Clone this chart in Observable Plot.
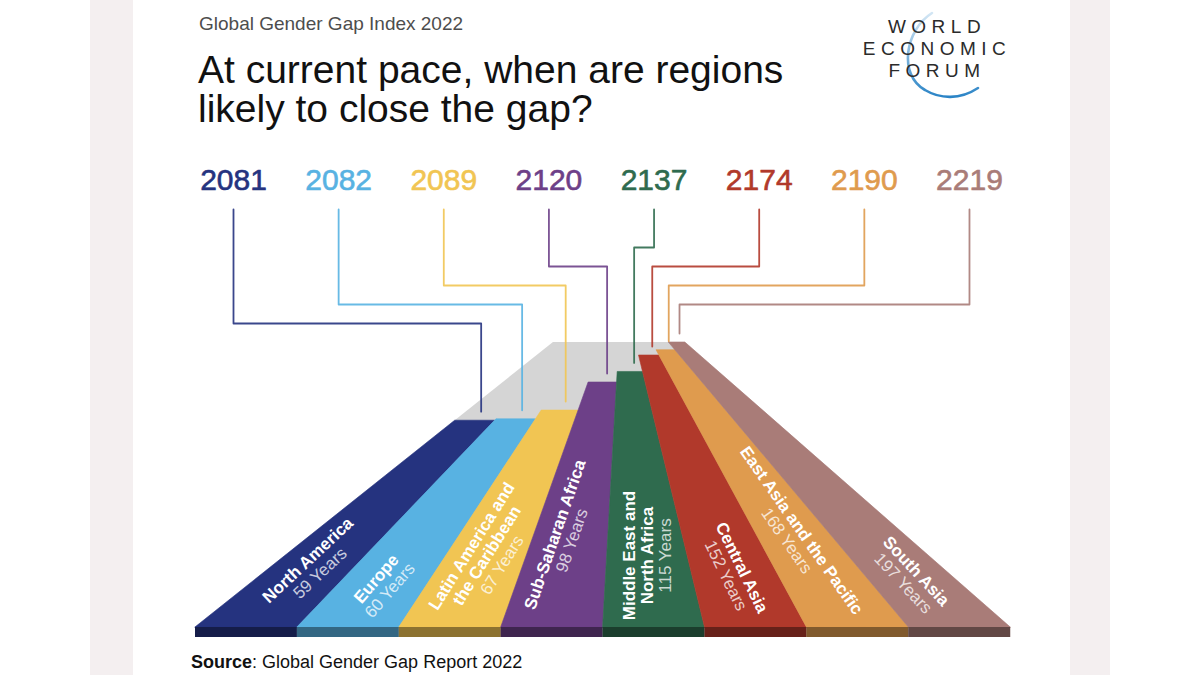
<!DOCTYPE html>
<html>
<head>
<meta charset="utf-8">
<script src="https://cdn.jsdelivr.net/npm/d3@7"></script>
<script src="https://cdn.jsdelivr.net/npm/@observablehq/plot@0.6"></script>
<style>
  html, body { margin:0; padding:0; background:#fff; width:1200px; height:675px; overflow:hidden;
    font-family:"Liberation Sans", Arial, Helvetica, sans-serif; }
  #page { position:relative; width:1200px; height:675px; }
  .strip { position:absolute; top:0; height:675px; background:#f4eff0; }
  .abs { position:absolute; white-space:nowrap; }
  #chart { position:absolute; left:0; top:140px; width:1200px; height:505px; }
  #chart svg { max-width:none; }
</style>
</head>
<body>
<div id="page">
  <div class="strip" style="left:90px;width:43px"></div>
  <div class="strip" style="left:1070px;width:40px"></div>

  <div class="abs" style="left:199px;top:14px;font-size:19px;line-height:19px;color:#4d4d4d">Global Gender Gap Index 2022</div>
  <div class="abs" style="left:198px;top:50px;font-size:39px;line-height:39px;color:#111">At current pace, when are regions<br>likely to close the gap?</div>

  <svg class="abs" style="left:850px;top:0" width="170" height="110" viewBox="850 0 170 110">
    <defs>
      <linearGradient id="arcg" x1="0" y1="0" x2="0" y2="1">
        <stop offset="0" stop-color="#d3e6f4"/>
        <stop offset="1" stop-color="#2b84c6"/>
      </linearGradient>
    </defs>
    <path d="M932,13 C905,30 898,75 925,90 C940,99 960,100 978,88" fill="none" stroke="url(#arcg)" stroke-width="2.6" stroke-linecap="round"/>
    <g font-family="'Liberation Sans', Arial, sans-serif" font-size="19" fill="#2b2b2b" text-anchor="middle" letter-spacing="5.5">
      <text x="937" y="33">WORLD</text>
      <text x="937" y="55">ECONOMIC</text>
      <text x="937" y="77">FORUM</text>
    </g>
  </svg>

  <div id="chart"></div>

  <div class="abs" style="left:191px;top:653px;font-size:18px;line-height:18px;color:#111"><b>Source</b>: Global Gender Gap Report 2022</div>
</div>

<script>
// ---------------- data ----------------
const regions = ["North America", "Europe", "Latin America and the Caribbean", "Sub-Saharan Africa",
  "Middle East and North Africa", "Central Asia", "East Asia and the Pacific", "South Asia"];
const regionLabels = ["North America", "Europe", "Latin America and\nthe Caribbean", "Sub-Saharan Africa",
  "Middle East and\nNorth Africa", "Central Asia", "East Asia and the Pacific", "South Asia"];
const closeYears = [2081, 2082, 2089, 2120, 2137, 2174, 2190, 2219];
const yearsToClose = [59, 60, 67, 98, 115, 152, 168, 197];

// ---------------- styles ----------------
const regionColors = ["#25337f", "#58b2e2", "#f1c553", "#6d4088", "#2f6b4e", "#b1392b", "#df9b4e", "#a97c78"];

// ---------------- layout (perspective road) ----------------
const VP_X = 622, HORIZON_Y = 287, BASE_Y = 627, LANE_X0 = 195, LANE_W = 101.9, D0 = 38, SLAB = 10;
const project = (u, z) => {
  const s = D0 / (D0 + z);
  return [VP_X + (LANE_X0 + u * LANE_W - VP_X) * s, HORIZON_Y + (BASE_Y - HORIZON_Y) * s];
};
const labelDepth = [8.3, 5.5, 10.2, 13.7, 10.2, 7.5, 14.1, 6.6];
const labelAcross = [0.5, 0.5, 0.5, 0.4, 0.5, 0.5, 0.5, 0.5];
const labelRotate = [-43, -49, -58, -71, -90, 64, 55, 47];
const YEAR_LABEL_X0 = 233, YEAR_LABEL_STEP = 105.14, YEAR_LABEL_Y = 179.5, LEADER_TOP = 209;

// ---------------- derived tables ----------------
const maxYears = d3.max(yearsToClose);
const floorRows = [0, maxYears].map(z => {
  const [xl, y] = project(0, z);
  const [xr] = project(regions.length, z);
  return {y, x1: xl, x2: xr};
});
const roadRows = regions.flatMap((r, i) => [0, yearsToClose[i]].map(z => {
  const [xl, y] = project(i, z);
  const [xr] = project(i + 1, z);
  return {region: r, y, x1: xl, x2: xr};
}));
const stripRows = regions.map((r, i) => ({
  region: r, x1: project(i, 0)[0], x2: project(i + 1, 0)[0], y1: BASE_Y, y2: BASE_Y + SLAB
}));
const yearRows = regions.map((r, i) => ({
  region: r, x: YEAR_LABEL_X0 + i * YEAR_LABEL_STEP, y: YEAR_LABEL_Y, text: String(closeYears[i])
}));
const leaderRows = regions.flatMap((r, i) => {
  const x0 = YEAR_LABEL_X0 + i * YEAR_LABEL_STEP;
  const level = 247 + 19 * Math.abs(i - 4);
  const [xe, ye] = project(i + 0.65, yearsToClose[i]);
  return [
    {region: r, x: x0, y: LEADER_TOP},
    {region: r, x: x0, y: level},
    {region: r, x: xe, y: level},
    {region: r, x: xe, y: ye - 9}
  ];
});
const laneLabelRows = regions.map((r, i) => {
  const [x, y] = project(i + labelAcross[i], labelDepth[i]);
  const nLines = regionLabels[i].split("\n").length;
  return {
    region: r, x, y, rotate: labelRotate[i],
    name: regionLabels[i] + "\n\u00a0",
    years: "\u00a0\n".repeat(nLines) + yearsToClose[i] + " Years"
  };
});

const chart = Plot.plot({
  width: 1200,
  height: 505,
  margin: 0,
  x: {domain: [0, 1200], range: [0, 1200], axis: null},
  y: {domain: [140, 645], range: [0, 505], axis: null},
  color: {domain: regions, range: regionColors},
  style: {background: "transparent", fontFamily: "'Liberation Sans', Arial, sans-serif", overflow: "visible"},
  marks: [
    Plot.areaX(floorRows, {y: "y", x1: "x1", x2: "x2", fill: "#d5d5d5"}),
    Plot.areaX(roadRows, {y: "y", x1: "x1", x2: "x2", z: "region", fill: "region", stroke: "region", strokeWidth: 0.6}),
    Plot.rect(stripRows, {x1: "x1", x2: "x2", y1: "y1", y2: "y2", fill: "region"}),
    Plot.rect(stripRows, {x1: "x1", x2: "x2", y1: "y1", y2: "y2", fill: "black", fillOpacity: 0.42}),
    Plot.line(leaderRows, {x: "x", y: "y", z: "region", stroke: "region", strokeWidth: 1.8, strokeOpacity: 0.9}),
    Plot.text(yearRows, {x: "x", y: "y", text: "text", fill: "region", stroke: "region", strokeWidth: 0.6,
      fontSize: 30, lineAnchor: "middle"}),
    Plot.text(laneLabelRows, {x: "x", y: "y", text: "name", rotate: "rotate", fill: "white",
      fontSize: 17, fontWeight: "bold", lineHeight: 1.05, lineAnchor: "middle"}),
    Plot.text(laneLabelRows, {x: "x", y: "y", text: "years", rotate: "rotate", fill: "white", fillOpacity: 0.75,
      fontSize: 17, lineHeight: 1.05, lineAnchor: "middle"})
  ]
});
document.getElementById("chart").appendChild(chart);
</script>
</body>
</html>
